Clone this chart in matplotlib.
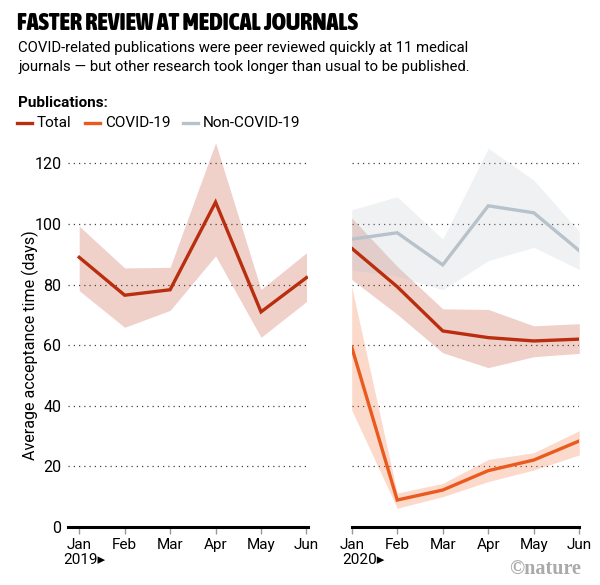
import numpy as np
import matplotlib.pyplot as plt
from matplotlib.lines import Line2D
from matplotlib import font_manager

# data
months = ['Jan', 'Feb', 'Mar', 'Apr', 'May', 'Jun']

total_2019 = [89.0, 76.5, 78.3, 107.2, 71.0, 82.3]
total_2019_hi = [99.3, 85.5, 85.7, 126.8, 78.4, 90.5]
total_2019_lo = [78.0, 65.9, 71.5, 89.5, 62.6, 74.4]

total_2020 = [92.0, 79.3, 64.7, 62.5, 61.4, 62.0]
total_2020_hi = [102.0, 86.0, 72.0, 71.8, 66.4, 67.1]
total_2020_lo = [81.7, 70.2, 57.5, 52.6, 56.2, 57.3]

covid_2020 = [59.4, 8.9, 12.2, 18.6, 22.1, 28.4]
covid_2020_hi = [79.3, 11.2, 14.4, 22.3, 24.5, 31.8]
covid_2020_lo = [38.6, 6.2, 10.0, 15.0, 18.8, 23.8]

noncovid_2020 = [95.0, 97.1, 86.5, 106.0, 103.7, 91.2]
noncovid_2020_hi = [104.7, 109.0, 95.0, 125.0, 114.5, 97.5]
noncovid_2020_lo = [84.8, 82.8, 78.3, 87.9, 92.3, 85.0]

yticks = [0, 20, 40, 60, 80, 100, 120]

TOTAL = '#b82e0e'
COVID = '#ea5a1e'
NONCOVID = '#b8c2cb'
FONT = ['Roboto', 'DejaVu Sans']

plt.rcParams['font.family'] = FONT


# pick a condensed bold face for the title if one is installed
def title_font():
    narrow = ['condensed', 'semi-condensed', 'extra-condensed', 'ultra-condensed']
    best = None
    for f in font_manager.fontManager.ttflist:
        name = f.name.lower()
        is_narrow = f.stretch in narrow or 'narrow' in name or 'condensed' in name
        w = f.weight if isinstance(f.weight, int) else 700
        if is_narrow and w >= 600:
            if best is None or w > best[0]:
                best = (w, f.fname)
    if best:
        return font_manager.FontProperties(fname=best[1], size=20), True
    return font_manager.FontProperties(family='Roboto', weight='black', size=15.5), False


W, H = 600, 585
fig = plt.figure(figsize=(6, 5.85), dpi=100)


def fx(px):
    return px / W


def fy(py):
    return 1 - py / H


ymax = 128
bottom = fy(527)
height = ymax * 3.03 / H
ax1 = fig.add_axes([fx(68.3), bottom, fx(308.3 - 68.3), height])
ax2 = fig.add_axes([fx(351.7), bottom, fx(579.3 - 351.7), height])

x = np.arange(len(months))


def style(ax, show_y):
    ax.set_ylim(0, ymax)
    for s in ['left', 'right', 'top']:
        ax.spines[s].set_visible(False)
    ax.spines['bottom'].set_linewidth(2.2)
    ax.spines['bottom'].set_color('black')
    ax.set_yticks(yticks)
    for v in yticks[1:]:
        ax.axhline(v, color='#444444', lw=0.9, ls=(0, (1, 3.2)), zorder=0)
    ax.set_xticks(x)
    ax.set_xticklabels(months, fontsize=11)
    ax.tick_params(axis='x', length=5, width=1, color='#999999', pad=3)
    ax.tick_params(axis='y', length=0, pad=5, labelsize=11.5)
    if not show_y:
        ax.set_yticklabels([])


# 2019
ax1.fill_between(x, total_2019_lo, total_2019_hi, color=TOTAL, alpha=0.22, lw=0)
ax1.plot(x, total_2019, color=TOTAL, lw=2.4, solid_joinstyle='miter')
ax1.set_xlim(-0.24, 5.04)
style(ax1, True)

# 2020
ax2.fill_between(x, total_2020_lo, total_2020_hi, color=TOTAL, alpha=0.22, lw=0)
ax2.plot(x, total_2020, color=TOTAL, lw=2.4, solid_joinstyle='miter')
ax2.fill_between(x, noncovid_2020_lo, noncovid_2020_hi, color=NONCOVID, alpha=0.22, lw=0)
ax2.plot(x, noncovid_2020, color=NONCOVID, lw=2.4, solid_joinstyle='miter')
ax2.fill_between(x, covid_2020_lo, covid_2020_hi, color='#f37a48', alpha=0.28, lw=0)
ax2.plot(x, covid_2020, color=COVID, lw=2.4, solid_joinstyle='miter')
ax2.set_xlim(0, 5)
style(ax2, False)

fig.text(fx(30), fy(345.5), 'Average acceptance time (days)', rotation=90,
         ha='center', va='center', fontsize=11.5)

fig.text(fx(63), fy(560), '2019\u25b8', ha='left', va='center', fontsize=11, family=FONT)
fig.text(fx(342), fy(560), '2020\u25b8', ha='left', va='center', fontsize=11, family=FONT)
fig.text(fx(581), fy(570), '\u00a9nature', ha='right', va='center', fontsize=14.5,
         color='#aaaaaa', fontweight='bold', family=['Liberation Serif', 'DejaVu Serif'])

# header
tprop, condensed = title_font()
title = fig.text(fx(17), fy(23), 'FASTER REVIEW AT MEDICAL JOURNALS', ha='left',
                 va='center', fontproperties=tprop)
# shrink the title until it spans about the same width as in the reference
fig.canvas.draw()
tw = title.get_window_extent().width
if tw > 345:
    tprop.set_size(tprop.get_size() * 341 / tw)
    title.set_fontproperties(tprop)

fig.text(fx(18), fy(48), 'COVID-related publications were peer reviewed quickly at 11 medical',
         ha='left', va='center', fontsize=10.7)
fig.text(fx(18), fy(67), 'journals \u2014 but other research took longer than usual to be published.',
         ha='left', va='center', fontsize=10.7)
fig.text(fx(18), fy(103), 'Publications:', ha='left', va='center', fontsize=11,
         fontweight='bold')

# legend
for x0, col, lab in [(17, TOTAL, 'Total'), (85, COVID, 'COVID-19'),
                     (183, NONCOVID, 'Non-COVID-19')]:
    fig.add_artist(Line2D([fx(x0), fx(x0 + 15)], [fy(123), fy(123)], color=col, lw=2.4))
    fig.text(fx(x0 + 20), fy(123), lab, ha='left', va='center', fontsize=11)

fig.savefig('out.png', dpi=100)
